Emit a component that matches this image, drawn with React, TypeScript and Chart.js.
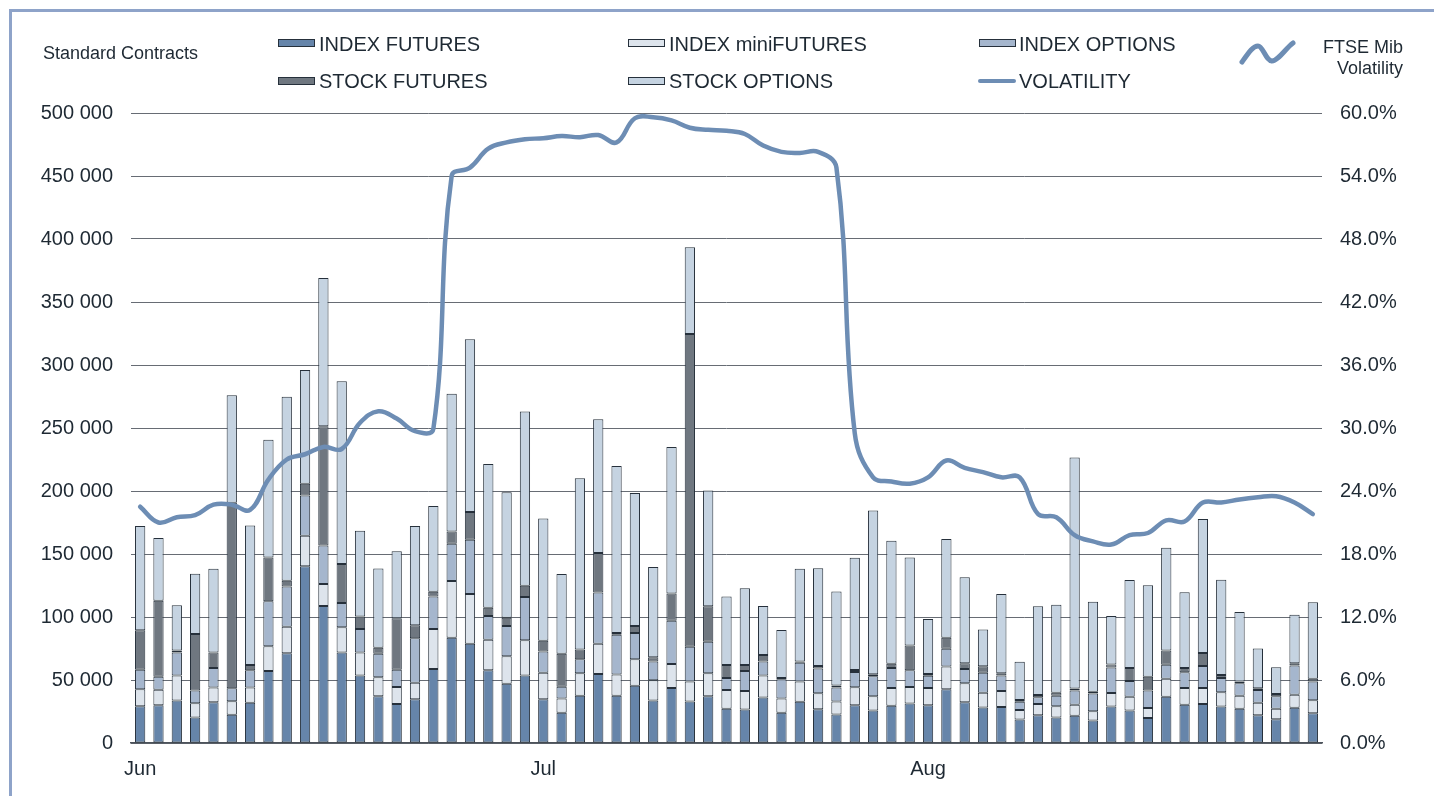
import React, { useEffect, useRef } from 'react';
import { Chart, registerables } from 'chart.js';

Chart.register(...registerables);

// Month tick labels at first trading day of each month
const monthTicks: Record<number, string> = { 0: 'Jun', 22: 'Jul', 43: 'Aug' };
const categories: string[] = Array.from({ length: 65 }, (_, i) => monthTicks[i] ?? '');

const indexFutures = [29200, 29900, 33700, 20300, 32300, 22400, 32000, 57100, 71200, 140300, 108700, 71900, 53600, 37100, 31000, 34700, 58800, 83600, 78800, 57800, 47100, 53600, 34700, 24100, 37500, 54700, 37500, 45400, 33700, 43700, 33000, 37100, 27200, 26500, 36100, 24100, 32700, 26800, 22700, 29900, 25800, 29600, 31300, 29900, 42600, 32300, 28200, 28500, 18600, 22000, 20300, 21700, 17900, 28900, 25800, 19900, 36800, 30300, 31000, 28900, 27200, 22000, 18900, 27900, 23700];
const indexMiniFutures = [13400, 12400, 19900, 11300, 11700, 10700, 12000, 19600, 21000, 24100, 17500, 19900, 18200, 15100, 13400, 13100, 31600, 45000, 39500, 24100, 21700, 27900, 21000, 11300, 17900, 24100, 16900, 21000, 16200, 18900, 15800, 18200, 14800, 14800, 17500, 11300, 16200, 12700, 10300, 14400, 11300, 14100, 13100, 13800, 18200, 15100, 11700, 12700, 7600, 8900, 8900, 8600, 7200, 10700, 11000, 7900, 14100, 13400, 12700, 11300, 10300, 10000, 8300, 10300, 10300];
const indexOptions = [15500, 10300, 18200, 10000, 15500, 10300, 13800, 35800, 32000, 32000, 30600, 19300, 18600, 18600, 13800, 35400, 25800, 29600, 43000, 18900, 24100, 34400, 16900, 9300, 11000, 40600, 31600, 21000, 14800, 34400, 27500, 25100, 9600, 15800, 11000, 15100, 14800, 19600, 11000, 12000, 15800, 15800, 13400, 9600, 14100, 11300, 15800, 12400, 6500, 5500, 8300, 11300, 14100, 20300, 12400, 13800, 11300, 12400, 17500, 11300, 10000, 10000, 10000, 23400, 14800];
const stockFutures = [31300, 60200, 1700, 45000, 12400, 147200, 4100, 34700, 4500, 9300, 94600, 31000, 10000, 4800, 40900, 10300, 3800, 9600, 22000, 6500, 6500, 8900, 8600, 26100, 7900, 31300, 1400, 5500, 3400, 21700, 248300, 28200, 10300, 4800, 5200, 1000, 1000, 2100, 1700, 1700, 1700, 3400, 19600, 1400, 8600, 4500, 5200, 1700, 1400, 1700, 2400, 1700, 1400, 2400, 10300, 11000, 11300, 3400, 10300, 2400, 1400, 1400, 1700, 1700, 2100];
const stockOptions = [82900, 49900, 35800, 47800, 66400, 85300, 110700, 93500, 146200, 90400, 117600, 145100, 68100, 62900, 53000, 78800, 68100, 109400, 137200, 114200, 99700, 138200, 97000, 63300, 135800, 106300, 132400, 105600, 71500, 116200, 68800, 91800, 54300, 60900, 38900, 38200, 73600, 77400, 74600, 89100, 130000, 97700, 69800, 43700, 78400, 68400, 29200, 62900, 30300, 70500, 69800, 183300, 71500, 38500, 69800, 72600, 81500, 60200, 106300, 75700, 55000, 31600, 21300, 38500, 60900];
const volatility = [22.5, 21.0, 21.5, 21.7, 22.7, 22.7, 22.2, 25.1, 27.0, 27.5, 28.2, 28.0, 30.5, 31.6, 30.9, 29.7, 29.9, 54.0, 54.8, 56.6, 57.2, 57.5, 57.6, 57.8, 57.7, 57.9, 57.2, 59.5, 59.6, 59.3, 58.6, 58.4, 58.3, 58.0, 56.9, 56.3, 56.2, 56.3, 54.8, 29.5, 25.3, 24.9, 24.7, 25.3, 26.9, 26.2, 25.8, 25.3, 25.3, 21.8, 21.5, 19.8, 19.2, 18.9, 19.8, 20.0, 21.2, 21.1, 22.9, 22.9, 23.2, 23.4, 23.5, 22.9, 21.8];

const C_IF = '#6685aa';
const C_MINI = '#dde4ec';
const C_IO = '#a5b6cd';
const C_SF = '#6f7780';
const C_SO = '#c5d3e1';
const C_VOL = '#6d8db4';
const C_EDGE = '#26303b';
const C_TEXT = '#1e2933';
const FONT = "'Liberation Sans', Arial, sans-serif";

const fmtThousands = (v: number) => String(v).replace(/\B(?=(\d{3})+(?!\d))/g, ' ');

export default function App() {
  const ref = useRef<HTMLCanvasElement | null>(null);

  useEffect(() => {
    if (!ref.current) return;
    const bar = (label: string, data: number[], color: string) => ({
      type: 'bar' as const,
      label,
      data,
      backgroundColor: color,
      borderColor: C_EDGE,
      borderWidth: 1,
      borderSkipped: false,
      barPercentage: 0.56,
      categoryPercentage: 1,
      yAxisID: 'y',
      order: 1,
    });
    const chart = new Chart(ref.current, {
      type: 'bar',
      data: {
        labels: categories,
        datasets: [
          {
            type: 'line' as const,
            label: 'VOLATILITY',
            data: volatility,
            borderColor: C_VOL,
            borderWidth: 4.5,
            pointRadius: 0,
            tension: 0.4,
            fill: false,
            yAxisID: 'y1',
            order: 0,
            borderCapStyle: 'round',
            borderJoinStyle: 'round',
          } as any,
          bar('INDEX FUTURES', indexFutures, C_IF),
          bar('INDEX miniFUTURES', indexMiniFutures, C_MINI),
          bar('INDEX OPTIONS', indexOptions, C_IO),
          bar('STOCK FUTURES', stockFutures, C_SF),
          bar('STOCK OPTIONS', stockOptions, C_SO),
        ],
      },
      options: {
        responsive: false,
        animation: false,
        devicePixelRatio: 1,
        layout: { padding: { top: 113, left: 0, right: 0, bottom: 0 } },
        plugins: { legend: { display: false }, tooltip: { enabled: false } },
        scales: {
          x: {
            stacked: true,
            offset: true,
            grid: { display: false, drawTicks: false },
            border: { display: true, color: '#4d535b', width: 1.5 },
            ticks: {
              autoSkip: false,
              maxRotation: 0,
              minRotation: 0,
              padding: 14,
              color: C_TEXT,
              font: { family: FONT, size: 20 },
            },
            afterFit: (s: any) => { s.height = 53; },
          },
          y: {
            stacked: true,
            position: 'left',
            min: 0,
            max: 500000,
            ticks: {
              stepSize: 50000,
              padding: 18,
              color: C_TEXT,
              font: { family: FONT, size: 20 },
              callback: (v: any) => fmtThousands(Number(v)),
            },
            grid: { color: '#676c74', lineWidth: 1, drawTicks: false },
            border: { display: false },
            afterFit: (s: any) => { s.width = 131; },
          },
          y1: {
            position: 'right',
            min: 0,
            max: 60,
            ticks: {
              stepSize: 6,
              padding: 18,
              color: C_TEXT,
              font: { family: FONT, size: 20 },
              callback: (v: any) => Number(v).toFixed(1) + '%',
            },
            grid: { display: false, drawTicks: false },
            border: { display: false },
            afterFit: (s: any) => { s.width = 112; },
          },
        },
      } as any,
    });
    return () => chart.destroy();
  }, []);

  const txt = (s: React.CSSProperties): React.CSSProperties => ({
    position: 'absolute',
    fontFamily: FONT,
    color: C_TEXT,
    whiteSpace: 'nowrap',
    ...s,
  });
  const swatch = (left: number, top: number, color: string): React.CSSProperties => ({
    position: 'absolute',
    left,
    top,
    width: 37,
    height: 8,
    background: color,
    border: `1px solid ${C_EDGE}`,
    boxSizing: 'border-box',
  });

  return (
    <div style={{ position: 'fixed', left: 0, top: 0, width: 1434, height: 796, background: '#fff', overflow: 'hidden' }}>
      <canvas ref={ref} width={1434} height={796} style={{ position: 'absolute', left: 0, top: 0, width: 1434, height: 796 }} />
      <div style={{ position: 'absolute', left: 9, top: 9, width: 1425, height: 787, borderTop: '3px solid #8ea3c9', borderLeft: '3px solid #8ea3c9', boxSizing: 'border-box', pointerEvents: 'none' }} />

      <div style={txt({ left: 43, top: 42, fontSize: 18, lineHeight: '22px' })}>Standard Contracts</div>

      <div style={swatch(278, 39, C_IF)} />
      <div style={txt({ left: 319, top: 32, fontSize: 20, lineHeight: '24px' })}>INDEX FUTURES</div>
      <div style={swatch(628, 39, C_MINI)} />
      <div style={txt({ left: 669, top: 32, fontSize: 20, lineHeight: '24px' })}>INDEX miniFUTURES</div>
      <div style={swatch(979, 39, C_IO)} />
      <div style={txt({ left: 1019, top: 32, fontSize: 20, lineHeight: '24px' })}>INDEX OPTIONS</div>

      <div style={swatch(278, 77, C_SF)} />
      <div style={txt({ left: 319, top: 69, fontSize: 20, lineHeight: '24px' })}>STOCK FUTURES</div>
      <div style={swatch(628, 77, C_SO)} />
      <div style={txt({ left: 669, top: 69, fontSize: 20, lineHeight: '24px' })}>STOCK OPTIONS</div>
      <div style={{ position: 'absolute', left: 978, top: 79, width: 38, height: 4, background: C_VOL, borderRadius: 2 }} />
      <div style={txt({ left: 1019, top: 69, fontSize: 20, lineHeight: '24px' })}>VOLATILITY</div>

      <svg width={1434} height={120} style={{ position: 'absolute', left: 0, top: 0, pointerEvents: 'none' }}>
        <path d="M1242 62 C1249 52 1253 46 1258 46 S1266 61 1272 61 S1286 48 1293 43" fill="none" stroke={C_VOL} strokeWidth={5} strokeLinecap="round" />
      </svg>
      <div style={txt({ right: 31, top: 36, fontSize: 18, lineHeight: '22px', textAlign: 'right' })}>FTSE Mib</div>
      <div style={txt({ right: 31, top: 57, fontSize: 18, lineHeight: '22px', textAlign: 'right' })}>Volatility</div>
    </div>
  );
}
